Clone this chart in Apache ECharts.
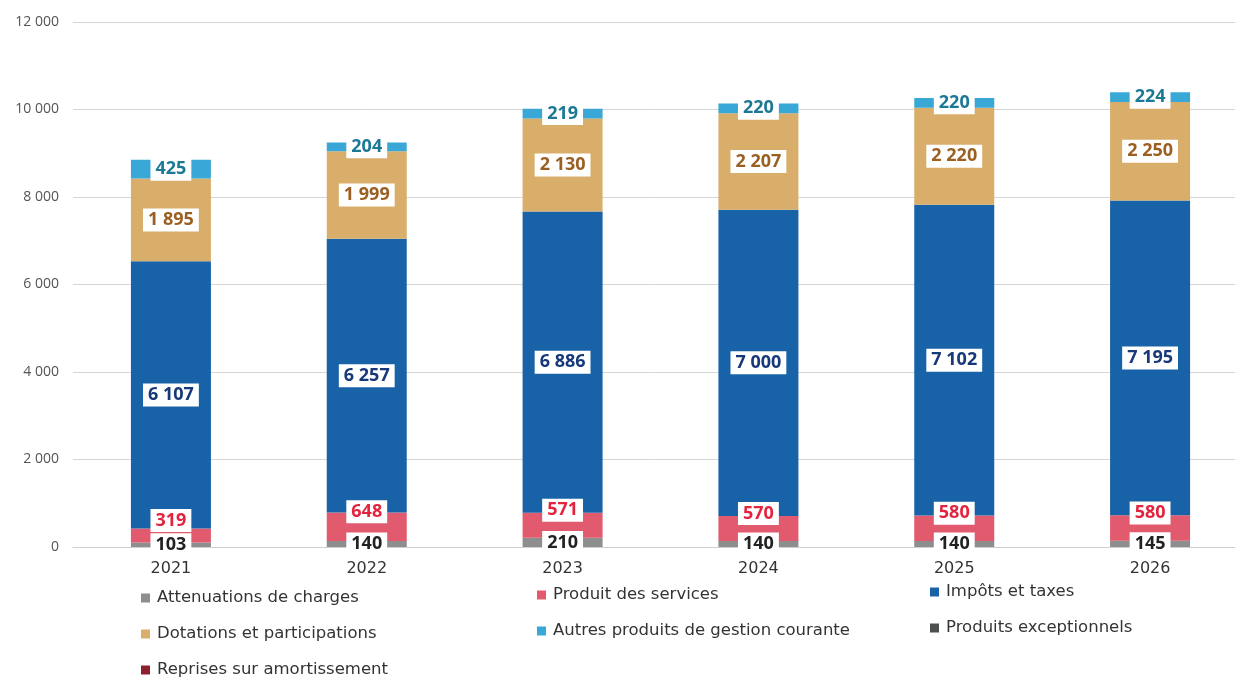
<!DOCTYPE html>
<html>
<head>
<meta charset="utf-8">
<script src="https://cdn.jsdelivr.net/npm/echarts@6/dist/echarts.min.js"></script>
<style>html,body{margin:0;padding:0;background:#fff;}#c{width:1235px;height:680px;}</style>
</head>
<body>
<div id="c"></div>
<script>
const years = ['2021','2022','2023','2024','2025','2026'];
const attenuations = [103, 140, 210, 140, 140, 145];
const produitServices = [319, 648, 571, 570, 580, 580];
const impots = [6107, 6257, 6886, 7000, 7102, 7195];
const dotations = [1895, 1999, 2130, 2207, 2220, 2250];
const autres = [425, 204, 219, 220, 220, 224];
const exceptionnels = [0, 0, 0, 0, 0, 0];
const reprises = [0, 0, 0, 0, 0, 0];
const yTicks = [0, 2000, 4000, 6000, 8000, 10000, 12000];

const FONT = 'Open Sans';
const TFONT = 'DejaVu Sans';
function fmt(v){ return String(v).replace(/\B(?=(\d{3})+(?!\d))/g, ' '); }

function lab(color, offset){
  return {
    show: true, position: 'inside', offset: offset || [0,0],
    formatter: p => p.value ? fmt(p.value) : '',
    color: color, fontFamily: FONT, fontWeight: 'bold', fontSize: 18,
    backgroundColor: '#fff', padding: [2, 5, 1, 5], lineHeight: 20
  };
}
function bar(name, data, color, label){
  return { name, type: 'bar', stack: 'total', data, barWidth: 80,
    itemStyle: { color }, label: label || { show: false }, emphasis: { disabled: true } };
}

const chart = echarts.init(document.getElementById('c'));
const legendText = { fontFamily: TFONT, fontSize: 16.5, color: '#333', lineHeight: 18, padding: [0, 0, 0, 2] };
function leg(left, top, data){
  return { orient: 'vertical', left, top, padding: 0, itemWidth: 9, itemHeight: 9, itemGap: 18,
    textStyle: legendText, icon: 'rect', data };
}
chart.setOption({
  animation: false,
  grid: { left: 73, width: 1175, top: 22, height: 525, outerBoundsMode: 'none', containLabel: false },
  xAxis: {
    type: 'category', data: years,
    axisLine: { show: true, lineStyle: { color: '#cfcfcf' } },
    axisTick: { show: false },
    axisLabel: { fontFamily: TFONT, fontSize: 16, color: '#333', margin: 14 }
  },
  yAxis: {
    type: 'value', min: 0, max: 12000, interval: 2000,
    axisLine: { show: false }, axisTick: { show: false },
    splitLine: { lineStyle: { color: '#d6d6d6' } },
    axisLabel: { fontFamily: FONT, fontSize: 14, color: '#555', margin: 14,
      formatter: v => yTicks.includes(v) ? fmt(v) : '' }
  },
  legend: [
    leg(141, 589, ['Attenuations de charges', 'Dotations et participations', 'Reprises sur amortissement']),
    leg(537, 586, ['Produit des services', 'Autres produits de gestion courante']),
    leg(930, 583, ['Impôts et taxes', 'Produits exceptionnels'])
  ],
  series: [
    bar('Attenuations de charges', attenuations, '#8e8e8e', lab('#222', [0, 0])),
    bar('Produit des services', produitServices, '#e25a6e', lab('#e3243f', [0, -15])),
    bar('Impôts et taxes', impots, '#1862a8', lab('#17397a')),
    bar('Dotations et participations', dotations, '#d9ae6b', lab('#9b5f22')),
    bar('Autres produits de gestion courante', autres, '#3aa8d6', lab('#1b7995')),
    bar('Produits exceptionnels', exceptionnels, '#4d4f4f'),
    bar('Reprises sur amortissement', reprises, '#8e1f2c')
  ]
});
</script>
</body>
</html>
